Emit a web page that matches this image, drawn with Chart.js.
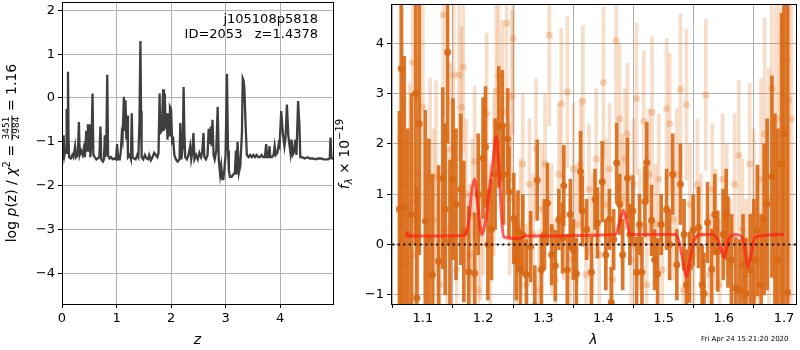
<!DOCTYPE html>
<html>
<head>
<meta charset="utf-8">
<script src="https://cdn.jsdelivr.net/npm/chart.js"></script>
<style>
  body { margin: 0; background: #fff; width: 800px; height: 350px; position: relative; overflow: hidden; }
  canvas { position: absolute; top: 0; }
  #pz { left: 0; }
  #spec { left: 335px; }
  #stamp { position: absolute; left: 701px; top: 335px; font: 7px "DejaVu Sans"; color: #000; white-space: nowrap; }
</style>
</head>
<body>
<canvas id="pz" width="340" height="350"></canvas>
<canvas id="spec" width="465" height="350"></canvas>
<div id="stamp">Fri Apr 24 15:21:20 2020</div>
<script>
// left panel: log p(z)
var zGrid = [0.00,0.01,0.02,0.03,0.045,0.06,0.075,0.085,0.095,0.11,0.12,0.13,0.16,0.19,0.21,0.24,0.26,0.29,0.31,0.325,
  0.35,0.38,0.40,0.42,0.445,0.46,0.475,0.49,0.505,0.52,0.545,0.56,0.575,0.60,0.63,0.655,0.685,0.705,0.72,0.75,
  0.77,0.785,0.80,0.815,0.83,0.845,0.87,0.90,0.93,0.96,0.99,1.01,1.03,1.06,1.08,1.095,1.11,1.135,1.15,1.165,
  1.18,1.195,1.21,1.24,1.265,1.28,1.295,1.32,1.35,1.38,1.40,1.42,1.438,1.45,1.46,1.49,1.52,1.55,1.58,1.60,
  1.63,1.66,1.69,1.72,1.75,1.77,1.79,1.80,1.83,1.855,1.87,1.885,1.90,1.92,1.935,1.95,1.965,1.98,2.00,2.02,
  2.04,2.06,2.09,2.12,2.155,2.17,2.19,2.215,2.23,2.245,2.26,2.29,2.32,2.35,2.37,2.39,2.41,2.43,2.46,2.49,
  2.52,2.55,2.57,2.595,2.61,2.64,2.67,2.69,2.71,2.73,2.745,2.76,2.78,2.80,2.83,2.855,2.875,2.90,2.92,2.94,
  2.96,2.98,3.00,3.025,3.045,3.06,3.08,3.11,3.14,3.17,3.19,3.20,3.22,3.245,3.27,3.30,3.315,3.33,3.345,3.37,
  3.39,3.42,3.45,3.48,3.51,3.54,3.57,3.60,3.63,3.66,3.69,3.72,3.745,3.76,3.79,3.805,3.82,3.85,3.88,3.90,
  3.92,3.95,3.975,3.99,4.02,4.05,4.08,4.10,4.125,4.15,4.17,4.19,4.21,4.23,4.25,4.28,4.30,4.33,4.355,4.37,
  4.40,4.45,4.50,4.55,4.60,4.65,4.70,4.75,4.80,4.85,4.88,4.91,4.925,4.94,4.97]
var logPz = [-1.40,-0.90,-1.25,-0.85,-1.30,-1.20,-1.25,-0.25,-1.20,0.60,-0.90,-1.35,-1.38,-1.30,-1.35,-1.10,-1.35,-1.30,-0.55,-1.30,
  -1.20,-1.30,-1.15,-1.35,-0.75,-1.20,-0.60,-1.10,-0.60,-1.35,-0.85,0.10,-1.30,-1.35,-1.40,-1.38,-1.35,-0.65,-1.40,-1.45,
  -1.40,-0.85,-1.35,-0.85,0.53,-1.30,-1.38,-1.35,-1.40,-1.38,-1.40,-1.05,-1.40,-1.40,-1.20,-0.85,-0.95,0.03,-0.75,-0.05,
  -0.95,-0.40,-1.35,-1.30,-1.40,-0.35,-1.35,-1.38,-1.40,-1.30,-1.35,-0.60,1.30,-0.30,-1.35,-1.40,-1.30,-1.38,-1.40,-1.30,
  -1.42,-1.35,-1.25,-1.30,-1.35,-1.25,0.10,-0.80,-0.75,0.20,-0.75,0.10,-0.70,-0.35,-0.95,-0.35,-0.85,-0.20,-0.25,-1.00,
  -0.95,-1.30,-1.40,-1.45,-1.40,-0.57,-1.40,-1.10,0.25,-0.80,-1.35,-1.40,-1.30,-1.10,-1.40,-1.25,-0.80,-1.40,-1.30,-1.40,
  -1.25,-1.35,-1.25,-0.80,-1.35,-1.40,-1.30,-0.70,-1.05,-0.65,-1.10,-0.50,-1.30,-1.40,-1.20,-0.20,-1.40,-1.75,-1.55,-1.85,
  -1.85,-1.60,-1.30,0.55,-1.20,-1.65,-1.80,-1.80,-1.75,-1.70,-1.20,-1.75,-1.00,-1.70,-1.55,-0.80,0.45,0.40,0.20,-0.70,
  -1.30,-1.35,-1.30,-1.35,-1.30,-1.35,-1.30,-1.35,-1.35,-1.30,-1.35,-1.35,-1.05,-1.35,-1.35,-1.10,-1.35,-1.35,-1.30,-1.10,
  -1.30,-1.25,-1.05,-1.10,-0.30,-0.80,-1.10,-0.90,-0.15,-0.85,-1.05,-1.25,-0.95,-1.30,-1.25,-0.95,-1.30,-0.07,-0.65,-1.35,
  -1.35,-1.38,-1.35,-1.38,-1.38,-1.40,-1.38,-1.38,-1.40,-1.40,-1.40,-1.38,-0.90,-1.35,-1.40]
var zTicks = [0, 1, 2, 3, 4]
var pzTicks = [-4, -3, -2, -1, 0, 1, 2]

// right panel: spectrum, dark points (error bars), light points, model
var darkLam = [1.061,1.064,1.069,1.075,1.081,1.088,1.094,1.090,1.104,1.110,1.116,1.126,1.133,1.137,1.141,1.145,1.150,1.155,1.163,1.168,
  1.176,1.186,1.192,1.200,1.204,1.208,1.214,1.220,1.226,1.232,1.234,1.241,1.243,1.251,1.255,1.258,1.262,1.266,1.272,1.279,
  1.286,1.290,1.297,1.302,1.307,1.314,1.320,1.326,1.332,1.334,1.340,1.345,1.350,1.355,1.362,1.365,1.372,1.380,1.386,1.390,
  1.398,1.404,1.410,1.413,1.417,1.422,1.427,1.432,1.440,1.444,1.449,1.455,1.460,1.464,1.469,1.472,1.480,1.485,1.490,1.496,
  1.505,1.510,1.515,1.522,1.528,1.534,1.538,1.543,1.549,1.558,1.564,1.567,1.573,1.580,1.585,1.590,1.599,1.604,1.607,1.613,
  1.620,1.626,1.632,1.637,1.644,1.650,1.656,1.662,1.667,1.672,1.680,1.685,1.690,1.696,1.700,1.706]
var darkFlux = [0.70,3.50,0.74,0.20,0.60,3.00,2.40,-1.06,0.47,0.10,-0.60,-0.33,1.32,0.70,3.82,0.08,1.30,0.80,1.10,0.26,
  -0.54,-0.57,1.00,1.72,1.94,0.00,0.30,1.40,2.34,2.36,1.40,2.10,1.05,0.52,-0.30,0.27,-0.50,0.19,-0.60,-0.04,
  -1.22,1.28,-0.50,0.20,0.82,-0.20,-0.42,0.50,0.13,1.17,-0.50,0.60,-0.10,-0.58,1.45,0.67,0.30,-0.55,0.90,0.43,
  1.25,-0.20,0.50,-1.15,0.10,1.62,0.80,-0.20,1.32,0.20,0.67,-0.55,0.40,-0.55,0.85,1.63,0.48,-0.30,-0.58,0.40,
  0.70,0.00,1.40,-0.40,1.20,0.20,-0.80,-0.45,0.29,0.34,-0.80,-0.97,0.44,-0.49,0.60,-0.13,0.20,0.60,0.05,-0.30,
  -0.86,-0.90,-0.40,-0.97,-0.50,-0.30,0.28,-0.80,0.50,0.80,1.35,0.20,-0.30,1.60,2.20,-0.95]
var darkErr = [1.95,4.8,3.0,2.1,2.4,3.0,2.6,2.2,2.2,2.0,2.0,1.9,1.8,1.7,1.8,1.6,1.6,1.5,1.5,1.4,
  1.3,1.2,1.2,1.2,1.2,1.1,1.0,1.1,1.2,1.1,1.0,1.0,0.9,0.9,0.8,0.8,0.8,0.8,0.7,0.7,
  0.8,0.8,0.7,0.7,0.8,0.6,0.7,0.6,0.7,0.8,0.7,0.7,0.6,0.7,0.8,0.7,0.6,0.7,0.6,0.7,
  0.8,0.7,0.6,0.7,0.6,0.8,0.6,0.7,0.8,0.6,0.7,0.7,0.6,0.7,0.7,0.8,0.7,0.6,0.7,0.6,
  0.8,0.7,0.8,0.7,0.8,0.7,0.7,0.7,0.7,0.8,0.8,0.8,0.8,0.8,0.8,0.8,0.9,0.9,0.9,0.9,
  1.0,1.0,1.0,1.1,1.1,1.2,1.3,1.4,1.5,1.7,2.0,2.4,2.6,3.0,4.0,6.0]

var lightLam = [1.066,1.072,1.078,1.083,1.086,1.092,1.100,1.106,1.112,1.118,1.122,1.128,1.134,1.140,1.146,1.151,1.156,1.160,1.164,1.167,
  1.172,1.178,1.182,1.186,1.192,1.196,1.200,1.206,1.212,1.218,1.222,1.226,1.232,1.239,1.244,1.248,1.250,1.255,1.262,1.266,
  1.272,1.277,1.283,1.288,1.293,1.298,1.303,1.310,1.314,1.320,1.326,1.330,1.334,1.340,1.345,1.350,1.356,1.362,1.366,1.371,
  1.376,1.382,1.388,1.393,1.400,1.404,1.410,1.415,1.421,1.427,1.431,1.436,1.440,1.446,1.450,1.455,1.460,1.467,1.472,1.476,
  1.481,1.487,1.492,1.498,1.505,1.510,1.516,1.522,1.528,1.533,1.538,1.544,1.550,1.556,1.562,1.570,1.576,1.581,1.587,1.593,
  1.598,1.605,1.611,1.618,1.625,1.631,1.637,1.643,1.650,1.656,1.662,1.668,1.675,1.680,1.687,1.693,1.700,1.705,1.708,1.712]
var lightFlux = [1.20,-0.40,0.80,3.62,-0.20,1.40,2.74,-0.60,1.30,0.50,1.35,-0.80,4.56,0.30,1.90,3.37,-0.50,3.37,2.73,3.53,
  1.00,-0.20,0.60,1.65,-0.90,0.30,0.90,2.60,0.10,1.38,3.05,3.35,2.65,4.40,0.90,2.95,4.10,-0.30,0.40,1.60,
  -0.80,1.20,0.20,1.90,-0.90,0.70,1.60,4.16,0.30,-0.70,1.40,2.80,0.60,3.03,-0.30,1.50,0.40,1.60,2.85,-0.60,
  1.10,0.20,1.70,-0.20,3.22,0.80,1.50,-0.70,4.05,2.50,0.90,1.70,2.20,-0.30,1.20,2.90,0.30,2.45,-0.80,1.40,
  2.63,0.40,1.30,-0.50,2.70,2.40,0.50,1.40,3.08,-0.90,2.78,0.80,-0.20,1.20,0.20,2.97,-0.60,1.10,0.30,-0.80,
  1.30,0.70,-0.40,1.20,1.77,0.30,-0.60,1.60,0.60,-0.30,1.30,2.20,0.90,3.10,1.60,2.50,4.38,3.66,2.88,2.50]
var lightErr = [3.5,2.5,2.4,2.8,2.2,2.3,2.2,2.0,2.0,1.8,1.9,1.7,2.0,1.6,1.7,1.8,1.6,1.7,1.6,1.7,
  1.5,1.4,1.5,1.5,1.4,1.4,1.5,1.6,1.5,1.6,1.7,1.8,1.8,1.9,1.5,1.7,1.9,1.3,1.3,1.4,
  1.2,1.3,1.2,1.4,1.2,1.3,1.4,1.8,1.3,1.2,1.4,1.5,1.3,1.5,1.2,1.3,1.2,1.3,1.5,1.2,
  1.3,1.2,1.4,1.2,1.5,1.3,1.3,1.2,1.6,1.5,1.3,1.4,1.4,1.2,1.3,1.5,1.2,1.4,1.2,1.3,
  1.5,1.2,1.3,1.2,1.4,1.4,1.2,1.3,1.5,1.2,1.5,1.2,1.2,1.3,1.2,1.5,1.2,1.3,1.2,1.3,
  1.3,1.3,1.3,1.4,1.5,1.4,1.5,1.6,1.7,1.8,2.0,2.3,2.6,3.0,3.2,3.5,4.0,4.0,4.0,4.0]

var modelLam = [1.072,1.076,1.17,1.176,1.181,1.186,1.191,1.198,1.205,1.211,1.216,1.222,1.226,1.230,1.234,1.26,1.27,1.42,1.427,1.433,
  1.439,1.444,1.52,1.527,1.533,1.538,1.543,1.550,1.56,1.58,1.590,1.596,1.600,1.604,1.610,1.62,1.630,1.636,1.640,1.645,
  1.652,1.70]
var modelFlux = [0.25,0.17,0.18,0.45,1.05,1.30,0.80,0.20,0.55,1.15,1.60,2.15,1.60,0.70,0.15,0.12,0.17,0.20,0.45,0.68,
  0.45,0.20,0.20,0.00,-0.40,-0.65,-0.35,0.05,0.20,0.20,0.10,-0.10,-0.25,-0.10,0.15,0.20,0.15,-0.15,-0.45,-0.20,
  0.15,0.20]
var lamTicks = [1.1, 1.2, 1.3, 1.4, 1.5, 1.6, 1.7]
var fluxTicks = [-1, 0, 1, 2, 3, 4]

var FONT = 'DejaVu Sans'
var GRID = '#b0b0b0'

function minus(v) {
    return String(v).replace('-', '\u2212')
}

// black box round the plot area
var frame = {
    id: 'frame',
    afterDraw: function(chart) {
        var a = chart.chartArea, c = chart.ctx
        c.save()
        c.strokeStyle = '#000'
        c.lineWidth = 1
        c.strokeRect(Math.round(a.left) + 0.5, Math.round(a.top) + 0.5, Math.round(a.right - a.left), Math.round(a.bottom - a.top))
        c.restore()
    }
}

var label = {
    id: 'label',
    afterDraw: function(chart) {
        var a = chart.chartArea, c = chart.ctx
        c.save()
        c.font = '13px ' + FONT
        c.fillStyle = '#000'
        c.textAlign = 'right'
        c.textBaseline = 'middle'
        c.fillText('j105108p5818', a.right - 15, 20)
        c.fillText('ID=2053   z=1.4378', a.right - 15, 35)
        c.restore()
    }
}

// rotated y title made of pieces, with a small stacked fraction
function yTitle(parts, cx) {
    return {
        id: 'ytitle',
        afterDraw: function(chart) {
            var a = chart.chartArea, c = chart.ctx
            var font = function(p) { return (p.it ? 'italic ' : '') + p.size + 'px ' + FONT }
            var total = 0
            parts.forEach(function(p) {
                if (p.frac) {
                    c.font = p.size + 'px ' + FONT
                    p.w = Math.max(c.measureText(p.frac[0]).width, c.measureText(p.frac[1]).width) + 2
                } else {
                    c.font = font(p)
                    p.w = c.measureText(p.t).width
                }
                total += p.w
            })
            c.save()
            c.translate(cx, (a.top + a.bottom) / 2)
            c.rotate(-Math.PI / 2)
            c.fillStyle = '#000'
            c.textBaseline = 'middle'
            c.textAlign = 'left'
            var x = -total / 2
            parts.forEach(function(p) {
                if (p.frac) {
                    c.font = p.size + 'px ' + FONT
                    c.textAlign = 'center'
                    c.fillText(p.frac[0], x + p.w / 2, -5)
                    c.fillText(p.frac[1], x + p.w / 2, 5)
                    c.fillRect(x, -0.5, p.w, 1)
                    c.textAlign = 'left'
                } else {
                    c.font = font(p)
                    c.fillText(p.t, x, p.dy || 0)
                }
                x += p.w
            })
            c.restore()
        }
    }
}

function axis(min, max, ticks, width, height, title, italic, fmt) {
    return {
        type: 'linear', min: min, max: max, offset: false,
        afterBuildTicks: function(s) { s.ticks = ticks.map(function(v) { return {value: v} }) },
        afterFit: function(s) {
            if (width) s.width = width
            if (height) s.height = height
            // no extra room for half tick labels at the ends
            s.paddingTop = 0; s.paddingBottom = 0; s.paddingLeft = 0; s.paddingRight = 0
        },
        grid: {color: GRID, lineWidth: 1, tickLength: 4, tickColor: '#000'},
        border: {display: false},
        ticks: {color: '#000', font: {family: FONT, size: 13}, padding: 3, maxRotation: 0,
            callback: function(v) { return minus(fmt ? v.toFixed(fmt) : v) }},
        title: {display: !!title, text: title, color: '#000', padding: {top: 0, bottom: 1},
            font: {family: FONT, size: 14, style: italic ? 'italic' : 'normal'}}
    }
}

var pzData = zGrid.map(function(z, i) { return {x: z, y: logPz[i]} })

new Chart(document.getElementById('pz'), {
    type: 'line',
    data: {datasets: [{data: pzData, borderColor: '#3f3f3f', borderWidth: 2.3, pointRadius: 0, tension: 0}]},
    options: {
        responsive: false, animation: false, devicePixelRatio: 1,
        layout: {padding: {top: 2, right: 7, left: 0, bottom: 0}},
        plugins: {legend: {display: false}, tooltip: {enabled: false}},
        scales: {
            x: axis(0, 4.97, zTicks, 0, 46, 'z', true),
            y: axis(-4.70, 2.19, pzTicks, 62, 0, '', false)
        }
    },
    plugins: [frame, label, yTitle([
        {t: 'log ', size: 14}, {t: 'p', size: 14, it: true}, {t: '(z) / ', size: 14},
        {t: '\u03c7', size: 14, it: true}, {t: '2', size: 10, dy: -5}, {t: ' = ', size: 14},
        {frac: ['3451', '2984'], size: 9}, {t: ' = 1.16', size: 14}
    ], 12)]
})

var DARK = 'rgba(217,104,20,0.9)'
var LIGHT = 'rgba(226,120,40,0.25)'

function bars(lam, flux, err) {
    return lam.map(function(l, i) { return {x: l, y: [flux[i] - err[i], flux[i] + err[i]]} })
}
function pts(lam, flux) {
    return lam.map(function(l, i) { return {x: l, y: flux[i]} })
}

new Chart(document.getElementById('spec'), {
    type: 'bar',
    data: {datasets: [
        {type: 'line', data: [{x: 1.04, y: 0}, {x: 1.73, y: 0}], borderColor: '#000', borderWidth: 2,
            borderDash: [2, 3.5], pointRadius: 0, order: 0},
        {type: 'line', data: pts(modelLam, modelFlux), borderColor: 'rgba(255,30,20,0.7)', borderWidth: 3,
            pointRadius: 0, cubicInterpolationMode: 'monotone', order: 1},
        {type: 'scatter', data: pts(darkLam, darkFlux), backgroundColor: DARK, borderWidth: 0, pointRadius: 3.5, order: 2},
        {data: bars(darkLam, darkFlux, darkErr), backgroundColor: DARK, barThickness: 3, grouped: false, order: 3},
        {type: 'scatter', data: pts(lightLam, lightFlux), backgroundColor: 'rgba(226,120,40,0.3)', borderWidth: 0, pointRadius: 3.5, order: 4},
        {data: bars(lightLam, lightFlux, lightErr), backgroundColor: LIGHT, barThickness: 3, grouped: false, order: 5}
    ]},
    options: {
        responsive: false, animation: false, devicePixelRatio: 1,
        layout: {padding: {top: 2, right: 1, left: 0, bottom: 0}},
        plugins: {legend: {display: false}, tooltip: {enabled: false}},
        scales: {
            x: axis(1.047, 1.72, lamTicks, 0, 46, '\u03bb', true, 1),
            y: axis(-1.18, 4.78, fluxTicks, 56, 0, '', false)
        }
    },
    plugins: [frame, yTitle([
        {t: 'f', size: 14, it: true}, {t: '\u03bb', size: 10, it: true, dy: 4}, {t: ' \u00d7 10', size: 14},
        {t: '\u221219', size: 10, dy: -5}
    ], 10)]
})
</script>
</body>
</html>
